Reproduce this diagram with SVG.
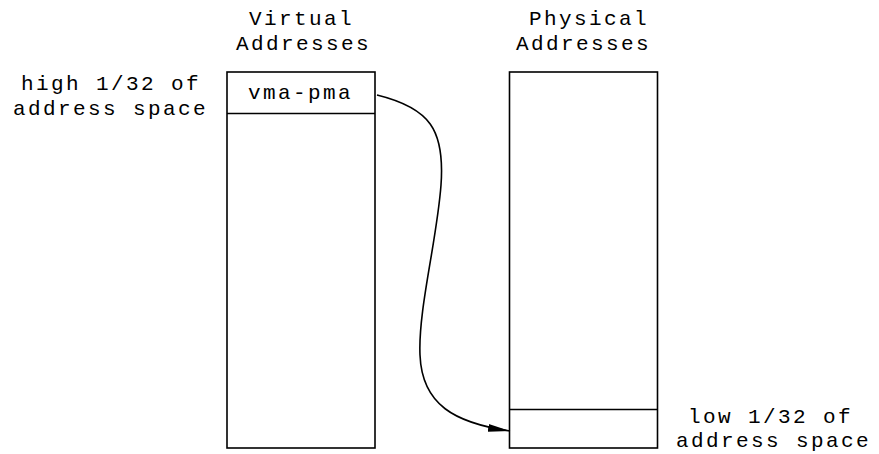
<svg xmlns="http://www.w3.org/2000/svg" width="879" height="454" viewBox="0 0 879 454">
<defs>
<style>
text{font-family:"Liberation Mono","Courier New",monospace;font-size:21px;letter-spacing:2.4px;fill:#000}
.box{fill:none;stroke:#000;stroke-width:1.6}
.div{stroke:#000;stroke-width:1.4}
.conn{fill:none;stroke:#000;stroke-width:1.6}
</style>
<marker id="arr" markerUnits="userSpaceOnUse" markerWidth="22" markerHeight="10" refX="22" refY="5" orient="auto">
<path d="M0,1 L22,5 L0,9 z" fill="#000"/>
</marker>
</defs>
<g id="virtual">
<text x="249" y="25">Virtual</text>
<text x="236" y="50">Addresses</text>
<rect class="box" x="227" y="72" width="148" height="376"/>
<line class="div" x1="227" y1="113.5" x2="375" y2="113.5"/>
<text x="248" y="99">vma-pma</text>
</g>
<g id="high-label">
<text x="21" y="90">high 1/32 of</text>
<text x="13" y="115">address space</text>
</g>
<g id="physical">
<text x="529" y="25">Physical</text>
<text x="516" y="50">Addresses</text>
<rect class="box" x="509.5" y="72" width="148" height="376"/>
<line class="div" x1="509.5" y1="409.5" x2="657.5" y2="409.5"/>
</g>
<g id="low-label">
<text x="688" y="423">low 1/32 of</text>
<text x="676" y="447">address space</text>
</g>
<g id="connectors">
<path class="conn" d="M377,95 C430,108 445,130 441,185 C437,240 418,310 420,355 C422,405 455,423 510,431" marker-end="url(#arr)"/>
</g>
</svg>
